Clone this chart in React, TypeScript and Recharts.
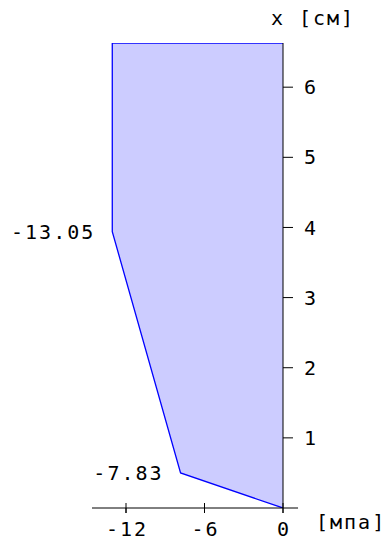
import { ComposedChart, Area, XAxis, YAxis, ReferenceLine, LabelList, Label } from 'recharts'

// stress profile over the section height
const heights = [0, 0.5, 3.94, 6.63, 6.63]
const stresses = [0, -7.83, -13.05, -13.05, 0]
const labelledPoints = [1, 2]

const xTicks = [-12, -6, 0]
const yTicks = [1, 2, 3, 4, 5, 6]
const xDomain = [-14.6, 0]
const yDomain = [0, 6.63]

const FONT = '"DejaVu Sans Mono", monospace'
const FS = 20
const LS = 2

const data = heights.map((h, i) => ({ h, s: stresses[i] }))

function CrossTick(props: any) {
  const { x, y, payload } = props
  const axisY = y - 17
  return (
    <g>
      <line x1={x} x2={x} y1={axisY - 5} y2={axisY + 5} stroke="#000" strokeWidth={1} />
      <text
        x={x + LS / 2}
        y={y - 3}
        dy="0.71em"
        textAnchor="middle"
        fontFamily={FONT}
        fontSize={FS}
        letterSpacing={LS}
        fill="#000"
      >
        {payload.value}
      </text>
    </g>
  )
}

function PointLabel(props: any) {
  const { x, y, value, index } = props
  if (!labelledPoints.includes(index)) return null
  return (
    <text
      x={x - 17}
      y={y}
      textAnchor="end"
      dominantBaseline="central"
      fontFamily={FONT}
      fontSize={FS}
      letterSpacing={LS}
      fill="#000"
    >
      {Number(value).toFixed(2)}
    </text>
  )
}

export default function App() {
  return (
    <div style={{ position: 'absolute', left: 0, top: 0, width: 385, height: 541, background: '#fff' }}>
      <ComposedChart
        width={385}
        height={541}
        data={data}
        layout="vertical"
        margin={{ top: 43, right: 42, bottom: 0, left: 92 }}
      >
        <XAxis
          type="number"
          dataKey="s"
          domain={xDomain}
          ticks={xTicks}
          allowDataOverflow
          height={33}
          tickSize={5}
          tickMargin={12}
          stroke="#000"
          tick={<CrossTick />}
        >
          <Label
            value="[мпа]"
            position="right"
            offset={33}
            dy={-3}
            fontFamily={FONT}
            fontSize={FS}
            letterSpacing={LS}
            fill="#000"
          />
        </XAxis>
        <YAxis
          type="number"
          dataKey="h"
          orientation="right"
          reversed
          domain={yDomain}
          ticks={yTicks}
          allowDataOverflow
          width={60}
          tickSize={10}
          tickMargin={11}
          stroke="#000"
          tick={{ fontFamily: FONT, fontSize: FS, fill: '#000' }}
        >
          <Label
            value="x [см]"
            position="top"
            offset={18}
            fontFamily={FONT}
            fontSize={FS}
            letterSpacing={LS}
            fill="#000"
          />
        </YAxis>
        <Area
          type="linear"
          dataKey="s"
          baseValue={0}
          stroke="#0000ff"
          strokeWidth={1.3}
          fill="#ccccff"
          fillOpacity={1}
          isAnimationActive={false}
        >
          <LabelList dataKey="s" content={<PointLabel />} />
        </Area>
        <ReferenceLine
          segment={[{ x: 0, y: 0 }, { x: 1.15, y: 0 }]}
          stroke="#000"
          ifOverflow="visible"
        />
      </ComposedChart>
    </div>
  )
}
